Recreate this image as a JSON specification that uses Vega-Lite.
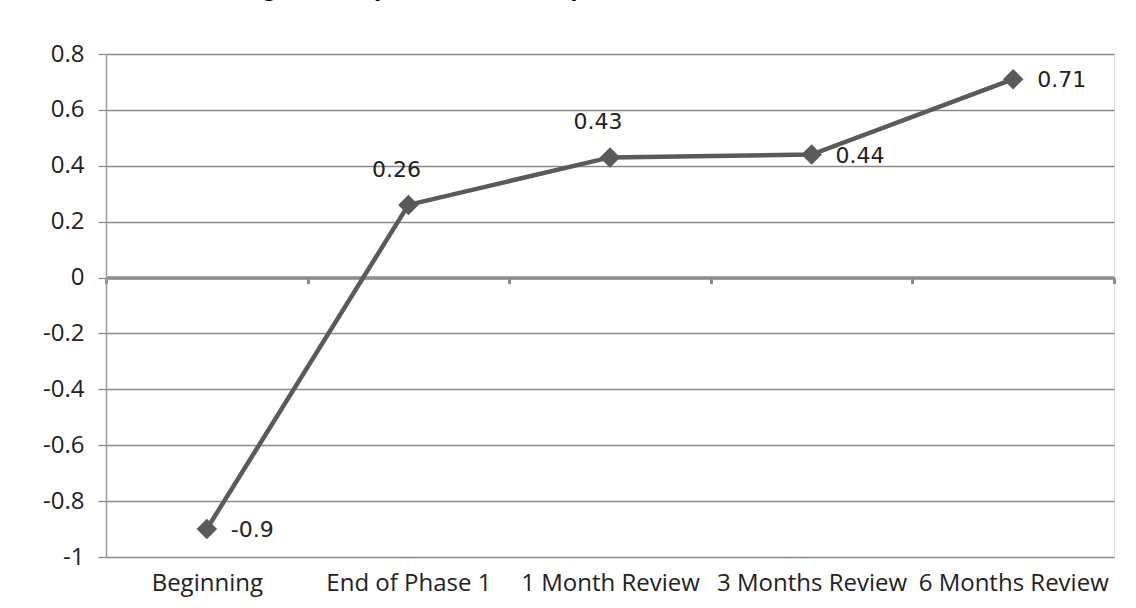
{
  "$schema": "https://vega.github.io/schema/vega-lite/v6.json",
  "width": 1008,
  "height": 503,
  "autosize": {"type": "none"},
  "padding": {"left": 106, "top": 54, "right": 22, "bottom": 51},
  "background": "white",
  "title": {
    "text": "Performance Rating a Goal (Mid Point Scale)",
    "anchor": "start",
    "frame": "group",
    "orient": "top",
    "offset": 20,
    "dx": -76,
    "baseline": "alphabetic",
    "font": "Liberation Sans",
    "fontSize": 26,
    "fontWeight": "bold",
    "color": "black"
  },
  "data": {
    "values": [
      {"stage": "Beginning", "score": -0.9},
      {"stage": "End of Phase 1", "score": 0.26},
      {"stage": "1 Month Review", "score": 0.43},
      {"stage": "3 Months Review", "score": 0.44},
      {"stage": "6 Months Review", "score": 0.71}
    ]
  },
  "encoding": {
    "x": {
      "field": "stage",
      "type": "nominal",
      "sort": null,
      "scale": {"type": "band", "paddingInner": 0, "paddingOuter": 0},
      "axis": {
        "orient": "bottom",
        "offset": -279.4,
        "title": null,
        "grid": false,
        "domainColor": "#8c8c8c",
        "domainWidth": 3.5,
        "ticks": true,
        "tickBand": "extent",
        "tickSize": 6,
        "tickWidth": 3,
        "tickColor": "#8c8c8c",
        "labelPadding": 288,
        "labelAngle": 0,
        "labelLimit": 0,
        "labelOverlap": false,
        "labelFont": "Open Sans",
        "labelFontSize": 24,
        "labelColor": "#222222",
        "labelBaseline": "top"
      }
    },
    "y": {
      "field": "score",
      "type": "quantitative",
      "scale": {"domain": [-1, 0.8], "nice": false, "zero": false},
      "axis": {
        "title": null,
        "values": [-1, -0.8, -0.6, -0.4, -0.2, 0, 0.2, 0.4, 0.6, 0.8],
        "labelExpr": "replace(format(datum.value, '.1~f'), '\u2212', '-')",
        "grid": true,
        "gridColor": "#8a8a8a",
        "gridWidth": 1.3,
        "domainColor": "#9a9a9a",
        "domainWidth": 1.5,
        "tickSize": 8,
        "tickColor": "#8a8a8a",
        "tickWidth": 1.3,
        "labelPadding": 14,
        "labelFont": "Open Sans",
        "labelFontSize": 24,
        "labelColor": "#222222"
      }
    }
  },
  "layer": [
    {
      "mark": {"type": "line", "color": "#5a5a5a", "strokeWidth": 4.5}
    },
    {
      "mark": {"type": "point", "shape": "diamond", "filled": true, "size": 420, "color": "#5a5a5a", "opacity": 1}
    },
    {
      "transform": [{"filter": "datum.stage === 'End of Phase 1' || datum.stage === '1 Month Review'"}],
      "mark": {"type": "text", "align": "center", "baseline": "middle", "dx": -12, "dy": -35, "font": "DejaVu Sans", "fontSize": 22, "color": "#222222"},
      "encoding": {"text": {"field": "score", "type": "quantitative", "format": ".2~f"}}
    },
    {
      "transform": [{"filter": "datum.stage === 'Beginning' || datum.stage === '3 Months Review' || datum.stage === '6 Months Review'"}],
      "mark": {"type": "text", "align": "left", "baseline": "middle", "dx": 24, "dy": 1, "font": "DejaVu Sans", "fontSize": 22, "color": "#222222"},
      "encoding": {"text": {"field": "score", "type": "nominal"}}
    }
  ]
}
